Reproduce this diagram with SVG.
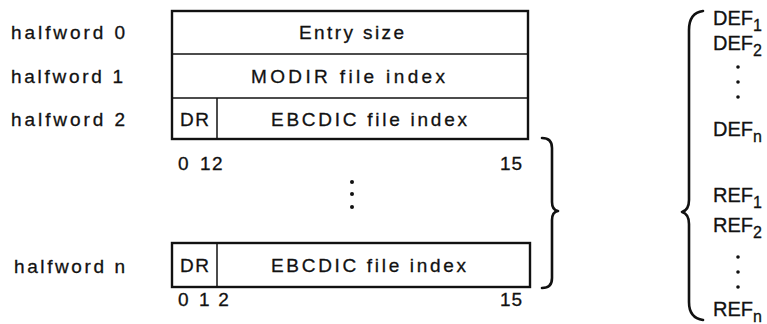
<svg xmlns="http://www.w3.org/2000/svg" width="767" height="324" viewBox="0 0 767 324">
<style>
text{font-family:"Liberation Sans",Arial,sans-serif;fill:#111;stroke:#111;stroke-width:0.3;}
.lbl{font-size:19px;}
.cell{font-size:19px;}
.num{font-size:19px;}
.sym{font-size:20px;}
.sub{font-size:16px;}
.box{fill:#fff;stroke:#111;stroke-width:2.4;}
.div{stroke:#111;stroke-width:1.5;fill:none;}
.brace{fill:none;stroke:#111;stroke-width:2.6;stroke-linecap:round;stroke-linejoin:round;}
.dot{fill:#111;}
</style>
<rect width="767" height="324" fill="#fff"/>

<g id="labels">
  <text class="lbl" x="11" y="39" textLength="114" lengthAdjust="spacing">halfword 0</text>
  <text class="lbl" x="11" y="83" textLength="112" lengthAdjust="spacing">halfword 1</text>
  <text class="lbl" x="11" y="126" textLength="114" lengthAdjust="spacing">halfword 2</text>
  <text class="lbl" x="14" y="273" textLength="111" lengthAdjust="spacing">halfword n</text>
</g>

<g id="entry-box">
  <rect class="box" x="172" y="11" width="356" height="128"/>
  <line class="div" x1="172" y1="54" x2="528" y2="54"/>
  <line class="div" x1="172" y1="98" x2="528" y2="98"/>
  <line class="div" x1="217" y1="98" x2="217" y2="139"/>
  <text class="cell" x="299" y="39" textLength="105" lengthAdjust="spacing">Entry size</text>
  <text class="cell" x="251" y="83" textLength="194" lengthAdjust="spacing">MODIR file index</text>
  <text class="cell" x="180" y="126" textLength="29" lengthAdjust="spacing">DR</text>
  <text class="cell" x="271" y="126" textLength="196" lengthAdjust="spacing">EBCDIC file index</text>
  <text class="num" x="178 191 200 212" y="170">0 12</text>
  <text class="num" x="500" y="170" textLength="22" lengthAdjust="spacing">15</text>
</g>

<g id="ellipsis">
  <circle class="dot" cx="352" cy="182" r="2"/>
  <circle class="dot" cx="352" cy="194" r="2"/>
  <circle class="dot" cx="352" cy="207" r="2"/>
</g>

<g id="last-box">
  <rect class="box" x="172" y="243" width="358" height="44"/>
  <line class="div" x1="217" y1="243" x2="217" y2="287"/>
  <text class="cell" x="180" y="272" textLength="29" lengthAdjust="spacing">DR</text>
  <text class="cell" x="271" y="272" textLength="195" lengthAdjust="spacing">EBCDIC file index</text>
  <text class="num" x="178 191 199 213" y="306">0 1 2</text>
  <text class="num" x="500" y="306" textLength="22" lengthAdjust="spacing">15</text>
</g>

<g id="symbols">
  <text class="sym" x="713" y="25">DEF<tspan class="sub" dy="6">1</tspan></text>
  <text class="sym" x="713" y="50">DEF<tspan class="sub" dy="6">2</tspan></text>
  <circle class="dot" cx="738" cy="67" r="1.8"/>
  <circle class="dot" cx="738" cy="82" r="1.8"/>
  <circle class="dot" cx="738" cy="97" r="1.8"/>
  <text class="sym" x="713" y="136">DEF<tspan class="sub" dy="6">n</tspan></text>
  <text class="sym" x="713" y="202">REF<tspan class="sub" dy="6">1</tspan></text>
  <text class="sym" x="713" y="232">REF<tspan class="sub" dy="6">2</tspan></text>
  <circle class="dot" cx="738" cy="257" r="1.8"/>
  <circle class="dot" cx="738" cy="272" r="1.8"/>
  <circle class="dot" cx="738" cy="287" r="1.8"/>
  <text class="sym" x="713" y="316">REF<tspan class="sub" dy="6">n</tspan></text>
</g>

<g id="connectors">
  <path class="brace" d="M542,138 Q552,138 552,148 L552,202 Q552,210 558,211 Q552,212 552,220 L552,278 Q552,288 542,288"/>
  <path class="brace" d="M703,11 Q689,13 689,30 L689,200 Q689,210 682,212 Q689,214 689,224 L689,302 Q689,318 703,320"/>
</g>
</svg>
